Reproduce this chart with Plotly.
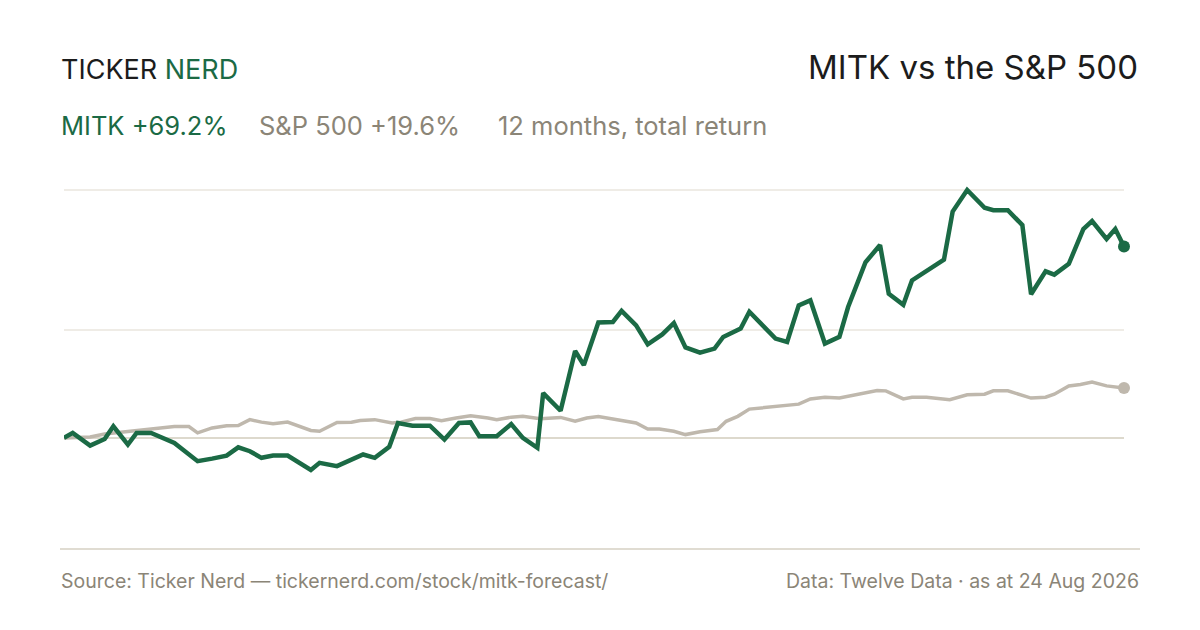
import pandas as pd
import plotly.graph_objects as go

# ---- data ----
start_date = "2025-08-24"
end_date = "2026-08-24"

mitk_days = [0, 3, 9, 14, 17, 22, 25, 30, 38, 46, 51, 56, 60, 64, 68, 72, 77, 85, 88, 94,
             103, 107, 112, 115, 120, 126, 131, 136, 140, 143, 149, 154, 158, 163, 165, 171,
             176, 179, 184, 189, 192, 197, 201, 206, 210, 214, 219, 224, 227, 233, 236, 245,
             249, 253, 257, 262, 267, 270, 276, 281, 284, 289, 292, 303, 306, 311, 317, 320,
             325, 330, 333, 338, 341, 346, 351, 354, 359, 362, 365]
mitk_ret = [0.0, 1.8, -2.8, -0.4, 4.2, -2.4, 1.8, 1.8, -1.8, -8.4, -7.5, -6.4, -3.4, -4.8, -7.2,
            -6.4, -6.4, -11.6, -9.0, -10.2, -6.0, -7.2, -3.2, 5.4, 4.4, 4.4, -0.6, 5.4, 5.6, 0.6,
            0.6, 5.0, 0.0, -3.6, 16.2, 9.8, 31.4, 26.3, 41.7, 41.9, 45.9, 40.7, 33.8, 37.4, 41.5,
            32.7, 30.8, 32.3, 36.5, 39.5, 45.6, 35.9, 34.7, 47.9, 49.7, 34.1, 36.5, 47.3, 63.5,
            69.7, 52.1, 48.1, 56.9, 64.4, 81.8, 89.6, 83.2, 82.3, 82.3, 76.9, 51.9, 60.2, 59.0,
            62.9, 75.5, 78.4, 71.9, 75.5, 69.2]

spx_days = [0, 9, 14, 22, 30, 38, 43, 46, 51, 56, 60, 64, 68, 72, 77, 85, 88, 94, 99, 102,
            107, 113, 116, 121, 126, 130, 135, 140, 146, 149, 154, 158, 164, 171, 176, 180,
            184, 189, 193, 197, 201, 205, 210, 214, 219, 225, 228, 232, 236, 242, 253, 257,
            262, 267, 273, 280, 283, 289, 292, 297, 305, 311, 317, 320, 325, 333, 338, 341,
            346, 350, 354, 359, 365]
spx_ret = [0.0, 0.3, 1.4, 2.3, 3.0, 4.1, 4.1, 1.8, 3.6, 4.4, 4.5, 6.6, 5.7, 5.1, 5.7, 2.7, 2.4,
           5.6, 5.7, 6.3, 6.6, 5.4, 5.7, 7.0, 7.0, 6.2, 7.2, 8.0, 7.2, 6.6, 7.5, 7.8, 6.9, 7.4,
           6.0, 7.2, 7.7, 6.9, 6.0, 5.4, 3.2, 3.2, 2.4, 1.2, 2.2, 3.0, 6.0, 7.8, 10.4, 11.0,
           12.2, 14.1, 14.7, 14.4, 15.6, 17.1, 17.0, 14.1, 14.7, 14.7, 13.8, 15.6, 15.8, 17.0,
           17.0, 14.4, 14.7, 15.8, 18.8, 19.3, 20.2, 18.8, 18.0]

mitk_label = "MITK +69.2%"
spx_label = "S&P 500 +19.6%"
period_label = "12 months, total return"
title_text = "MITK vs the S&P 500"
source_text = "Source: Ticker Nerd \u2014 tickernerd.com/stock/mitk-forecast/"
data_text = "Data: Twelve Data \u00b7 as at 24 Aug 2026"

# ---- styling ----
GREEN = "#1b6a45"
SPX = "#bfb8ad"
MUTED = "#8b8577"
DARK = "#1c1c1c"
FONT = "Inter"

OFF = 8  # browser default body margin
PAGE_W, PAGE_H = 1200, 630
W, H = PAGE_W - 2 * OFF, PAGE_H - 2 * OFF
# plot area in page pixels
PL, PR, PT, PB = 64, 1124, 180, 480
L, R, T, B = PL - OFF, PR - OFF, PT - OFF, PB - OFF

start = pd.Timestamp(start_date)
mitk_x = start + pd.to_timedelta(mitk_days, unit="D")
spx_x = start + pd.to_timedelta(spx_days, unit="D")

all_vals = mitk_ret + spx_ret
ymin, ymax = min(all_vals), max(all_vals)
span = ymax - ymin
pad = span * 10 / (PB - PT - 20)
ymid = (ymin + ymax) / 2


def px(xp):
    return (xp - PL) / (PR - PL)


def py(yp):
    return (PB - yp) / (PB - PT)


fig = go.Figure()
fig.add_trace(go.Scatter(x=spx_x, y=spx_ret, mode="lines",
                         line=dict(color=SPX, width=3.5), hoverinfo="skip"))
fig.add_trace(go.Scatter(x=mitk_x, y=mitk_ret, mode="lines",
                         line=dict(color=GREEN, width=4.5), hoverinfo="skip"))
fig.add_trace(go.Scatter(x=[spx_x[-1]], y=[spx_ret[-1]], mode="markers",
                         marker=dict(color=SPX, size=12), cliponaxis=False, hoverinfo="skip"))
fig.add_trace(go.Scatter(x=[mitk_x[-1]], y=[mitk_ret[-1]], mode="markers",
                         marker=dict(color=GREEN, size=12), cliponaxis=False, hoverinfo="skip"))

annots = [
    dict(x=px(59), y=py(70), text="TICKER <span style='color:%s'>NERD</span>" % GREEN,
         xanchor="left", font=dict(size=27, color=DARK, family=FONT)),
    dict(x=px(1140), y=py(67), text=title_text, xanchor="right",
         font=dict(size=33, color=DARK, family=FONT)),
    dict(x=px(59), y=py(125), text=mitk_label, xanchor="left",
         font=dict(size=25.5, color=GREEN, family=FONT)),
    dict(x=px(257), y=py(125), text=spx_label, xanchor="left",
         font=dict(size=25.5, color=MUTED, family=FONT)),
    dict(x=px(496), y=py(125), text=period_label, xanchor="left",
         font=dict(size=25.5, color=MUTED, family=FONT)),
    dict(x=px(59), y=py(581), text=source_text, xanchor="left",
         font=dict(size=19.5, color=MUTED, family=FONT)),
    dict(x=px(1141), y=py(581), text=data_text, xanchor="right",
         font=dict(size=19.5, color=MUTED, family=FONT)),
]
for a in annots:
    a.update(xref="paper", yref="paper", yanchor="middle", showarrow=False)

fig.update_layout(
    width=W, height=H,
    margin=dict(l=L, r=W - R, t=T, b=H - B, pad=0),
    paper_bgcolor="#ffffff", plot_bgcolor="#ffffff",
    showlegend=False,
    font=dict(family=FONT),
    annotations=annots,
    shapes=[dict(type="line", xref="paper", yref="paper",
                 x0=px(60), x1=px(1140), y0=py(549), y1=py(549),
                 line=dict(color="#e0dcd2", width=2))],
    xaxis=dict(range=[start, pd.Timestamp(end_date)], showgrid=False, zeroline=False,
               showticklabels=False, showline=False, ticks=""),
    yaxis=dict(range=[ymin - pad, ymax + pad], tickvals=[ymid, ymax], showticklabels=False,
               showgrid=True, gridcolor="#efece6", gridwidth=1.5,
               zeroline=True, zerolinecolor="#ddd9cd", zerolinewidth=1.5,
               showline=False, ticks=""),
)

fig.write_html("out.html")
